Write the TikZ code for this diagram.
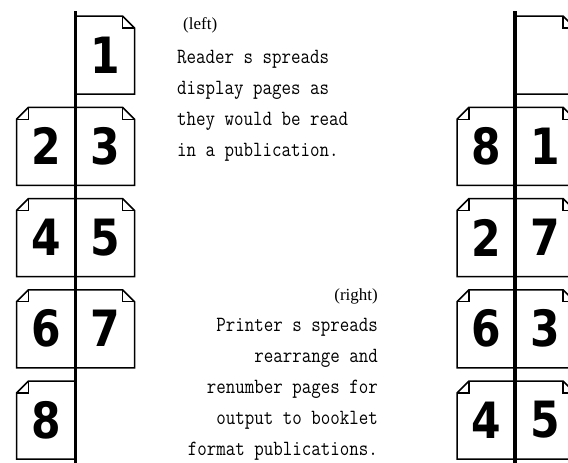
\documentclass[tikz,border=0pt]{standalone}
\usepackage{fontspec}
\setmonofont{Latin Modern Mono}[FakeStretch=0.85]
\newfontfamily\digitfont{DejaVu Sans}[FakeStretch=0.85]
\newfontfamily\tagfont{Liberation Serif}

\begin{document}
\begin{tikzpicture}[
		x=1pt, y=-1pt,
		spine/.style={line width=3.2pt},
		sheet/.style={line width=1.5pt, fill=white},
		fold/.style={line width=1.2pt},
		num/.style={font=\digitfont\bfseries\fontsize{50}{50}\selectfont, inner sep=0pt},
		blurb/.style={font=\ttfamily\fontsize{21.7}{31}\selectfont, inner sep=0pt},
		tag/.style={font=\tagfont\fontsize{17}{17}\selectfont, inner sep=0pt}
		]
		
		\useasboundingbox (0,0) rectangle (568,463);
		
		% Reader's spreads: left-hand pages (spine at x=75.5)
		\foreach \r/\n [evaluate=\r as \t using 16+91.25*\r] in {1/2, 2/4, 3/6, 4/8} {
			\draw[sheet] (75.5,\t) -- (28.5,\t) -- (16.5,\t+12) -- (16.5,\t+78) -- (75.5,\t+78);
			\draw[fold] (28.5,\t) -- (28.5,\t+12) -- (16.5,\t+12);
			\node[num] (Ll\r) at (46,\t+39) {\n};
		}
		
		% Reader's spreads: right-hand pages
		\foreach \r/\n [evaluate=\r as \t using 16+91.25*\r] in {0/1, 1/3, 2/5, 3/7} {
			\draw[sheet] (75.5,\t) -- (122.5,\t) -- (134.5,\t+12) -- (134.5,\t+78) -- (75.5,\t+78);
			\draw[fold] (122.5,\t) -- (122.5,\t+12) -- (134.5,\t+12);
			\node[num] (Lr\r) at (105,\t+39) {\n};
		}
		
		% Printer's spreads: left-hand pages (spine at x=515)
		\foreach \r/\n [evaluate=\r as \t using 16+91.25*\r] in {1/8, 2/2, 3/6, 4/4} {
			\draw[sheet] (515,\t) -- (469,\t) -- (457,\t+12) -- (457,\t+78) -- (515,\t+78);
			\draw[fold] (469,\t) -- (469,\t+12) -- (457,\t+12);
			\node[num] (Rl\r) at (486,\t+39) {\n};
		}
		
		% Printer's spreads: right-hand pages (first one is blank)
		\foreach \r/\n [evaluate=\r as \t using 16+91.25*\r] in {0/{}, 1/1, 2/7, 3/3, 4/5} {
			\draw[sheet] (515,\t) -- (563,\t) -- (575,\t+12) -- (575,\t+78) -- (515,\t+78);
			\draw[fold] (563,\t) -- (563,\t+12) -- (575,\t+12);
			\node[num] (Rr\r) at (545,\t+39) {\n};
		}
		
		% Spines
		\draw[spine] (75.5,11) -- (75.5,463);
		\draw[spine] (515,11) -- (515,463);
		
		% Captions
		\node[tag, anchor=west] (lefttag) at (183,25) {(left)};
		\node[blurb, anchor=north west, align=left] (lefttext) at (177,50) {
			Reader s spreads\\
			display pages as\\
			they would be read\\
			in a publication.
		};
		
		\node[tag, anchor=east] (righttag) at (378,296) {(right)};
		\node[blurb, anchor=north east, align=right] (righttext) at (378,318) {
			Printer s spreads\\
			rearrange and\\
			renumber pages for\\
			output to booklet\\
			format publications.
		};
		
	\end{tikzpicture}
\end{document}
